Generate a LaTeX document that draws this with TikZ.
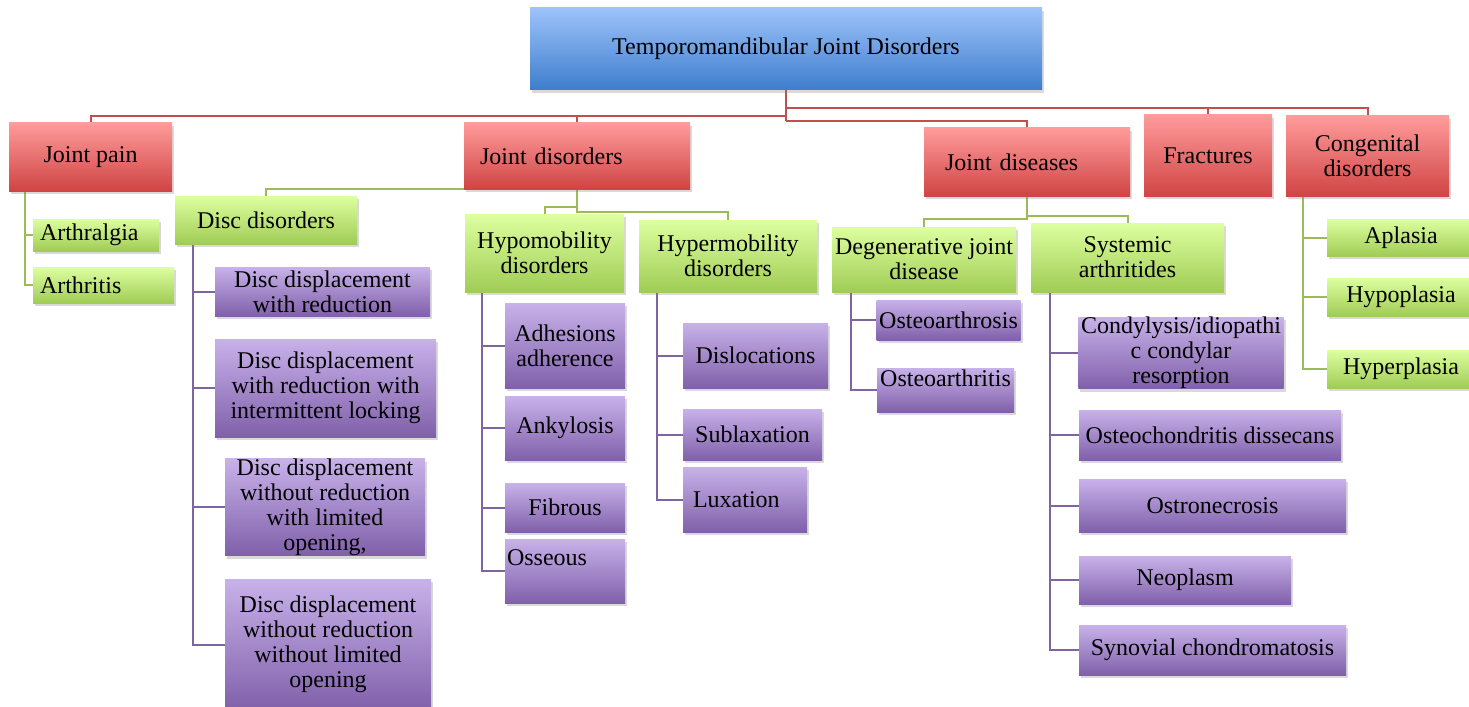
\documentclass[tikz,border=0pt]{standalone}
\usepackage{fontspec}
\setmainfont{Liberation Serif}
\usetikzlibrary{calc, shadows, backgrounds}
\definecolor{bluetop}{HTML}{9DC3FA}
\definecolor{bluebot}{HTML}{3E7DCC}
\definecolor{redtop}{HTML}{FF9B9B}
\definecolor{redbot}{HTML}{D04444}
\definecolor{greentop}{HTML}{DDFFA0}
\definecolor{greenbot}{HTML}{A0CC55}
\definecolor{purpletop}{HTML}{C8B2EA}
\definecolor{purplebot}{HTML}{8060AA}
\definecolor{redline}{HTML}{C0504D}
\definecolor{greenline}{HTML}{9BBB59}
\definecolor{purpleline}{HTML}{8064A2}
\tikzset{
  every picture/.style={x=0.75pt, y=-0.75pt},
  box/.style={top color=#1top, bottom color=#1bot, draw=none, align=center, inner xsep=2pt, inner ysep=0pt,
    font=\fontsize{18}{18.75}\selectfont, drop shadow={opacity=0.3, shadow xshift=1.5pt, shadow yshift=-2.5pt}},
  sz/.style 2 args={minimum width=#1*0.75pt, minimum height=#2*0.75pt},
  lft/.style 2 args={align=left, text width=#1, inner xsep=#2},
  link/.style={draw=#1line, line width=1.5pt},
}

\begin{document}
\begin{tikzpicture}
  \useasboundingbox (0,0) rectangle (1469,706);
  % root and first level
  \node[box=blue, sz={512}{82}] (top) at (786,49) {Temporomandibular Joint Disorders};
  \node[box=red, sz={163}{68}] (pain) at (90.5,157) {Joint pain};
  \node[box=red, sz={226}{66}, lft={145.5pt}{12pt}] (jdis) at (577,156) {Joint disorders};
  \node[box=red, sz={206}{68}, lft={123pt}{15.75pt}] (jdise) at (1027,162) {Joint diseases};
  \node[box=red, sz={128}{81}] (fract) at (1208,155.5) {Fractures};
  \node[box=red, sz={163}{80}] (cong) at (1367.5,156) {Congenital\\disorders};
  % second level
  \node[box=green, sz={126}{32}, lft={84pt}{5.25pt}] (arthralgia) at (96,235) {Arthralgia};
  \node[box=green, sz={141}{36}, lft={95.25pt}{5.25pt}] (arthritis) at (103.5,285) {Arthritis};
  \node[box=green, sz={182}{48}] (disc) at (266,220) {Disc disorders};
  \node[box=green, sz={159}{78}] (hypo) at (544.5,253) {Hypomobility\\disorders};
  \node[box=green, sz={178}{72}] (hyper) at (728,256) {Hypermobility\\disorders};
  \node[box=green, sz={184}{65}] (degen) at (924,259.5) {Degenerative joint\\disease};
  \node[box=green, sz={193}{69}] (syst) at (1127.5,257.5) {Systemic\\arthritides};
  \node[box=green, sz={148}{37}] (aplasia) at (1401,237.5) {Aplasia};
  \node[box=green, sz={148}{38}] (hypoplasia) at (1401,297) {Hypoplasia};
  \node[box=green, sz={148}{38}] (hyperplasia) at (1401,369) {Hyperplasia};
  % third level
  \node[box=purple, sz={215}{49}] (dd1) at (322.5,291.5) {Disc displacement\\with reduction};
  \node[box=purple, sz={221}{98}] (dd2) at (325.5,388) {Disc displacement\\with reduction with\\intermittent locking};
  \node[box=purple, sz={200}{96}] (dd3) at (325,507) {Disc displacement\\without reduction\\with limited\\opening,};
  \node[box=purple, sz={206}{131}] (dd4) at (328,644.5) {Disc displacement\\without reduction\\without limited\\opening};
  \node[box=purple, sz={120}{85}] (adh) at (565,345.5) {Adhesions\\adherence};
  \node[box=purple, sz={120}{64}] (ank) at (565,428) {Ankylosis};
  \node[box=purple, sz={120}{49}] (fib) at (565,507.5) {Fibrous};
  \node[box=purple, sz={120}{64}, lft={87pt}{1.5pt}, text depth=19.5pt] (oss) at (565,571) {Osseous};
  \node[box=purple, sz={145}{65}] (disl) at (755.5,355.5) {Dislocations};
  \node[box=purple, sz={139}{51}] (subl) at (752.5,434.5) {Sublaxation};
  \node[box=purple, sz={124}{65}, lft={78pt}{7.5pt}] (lux) at (745,499.5) {Luxation};
  \node[box=purple, sz={143}{40}] (osar) at (948.5,320) {Osteoarthrosis};
  \node[box=purple, sz={137}{44}, text depth=18.3pt] (osit) at (945.5,390) {Osteoarthritis};
  \node[box=purple, sz={204}{70}] (condy) at (1181,353) {Condylysis/idiopathi\\c condylar\\resorption};
  \node[box=purple, sz={262}{50}] (osteo) at (1210,435) {Osteochondritis dissecans};
  \node[box=purple, sz={267}{53}] (ostro) at (1212.5,505.5) {Ostronecrosis};
  \node[box=purple, sz={212}{48}] (neo) at (1185,580) {Neoplasm};
  \node[box=purple, sz={267}{50}] (syn) at (1212.5,650) {Synovial chondromatosis};

  \begin{scope}[on background layer]
    % red links from the root
    \coordinate (rootR) at ($(top.south)+(0,18)$);
    \coordinate (rootL) at ($(top.south)+(0,26)$);
    \coordinate (rootM) at ($(top.south)+(0,31)$);
    \draw[link=red] (top.south) -- (rootM);
    \draw[link=red] (rootL) -| (pain.north);
    \draw[link=red] (rootL) -| (jdis.north);
    \draw[link=red] (rootR) -| (fract.north);
    \draw[link=red] (rootR) -| (cong.north);
    \draw[link=red] (rootM) -| (jdise.north);
    % green links
    \foreach \c in {arthralgia,arthritis}
      \draw[link=green] ($(pain.south west)+(16,0)$) |- (\c.west);
    \draw[link=green] (jdis.south) -| (disc.north);
    \draw[link=green] (jdis.south) -- ++(0,23) -| (hyper.north);
    \draw[link=green] (jdis.south) ++(0,18) -| (hypo.north);
    \draw[link=green] (jdise.south) -- ++(0,23) -| (degen.north);
    \draw[link=green] (jdise.south) ++(0,20) -| (syst.north);
    \foreach \c in {aplasia,hypoplasia,hyperplasia}
      \draw[link=green] ($(cong.south west)+(17,0)$) |- (\c.west);
    % purple links
    \foreach \c in {dd1,dd2,dd3,dd4}
      \draw[link=purple] ($(disc.south west)+(18,0)$) |- (\c.west);
    \foreach \c in {adh,ank,fib,oss}
      \draw[link=purple] ($(hypo.south west)+(17,0)$) |- (\c.west);
    \foreach \c in {disl,subl,lux}
      \draw[link=purple] ($(hyper.south west)+(18,0)$) |- (\c.west);
    \foreach \c in {osar,osit}
      \draw[link=purple] ($(degen.south west)+(19,0)$) |- (\c.west);
    \foreach \c in {condy,osteo,ostro,neo,syn}
      \draw[link=purple] ($(syst.south west)+(19,0)$) |- (\c.west);
  \end{scope}
\end{tikzpicture}
\end{document}
